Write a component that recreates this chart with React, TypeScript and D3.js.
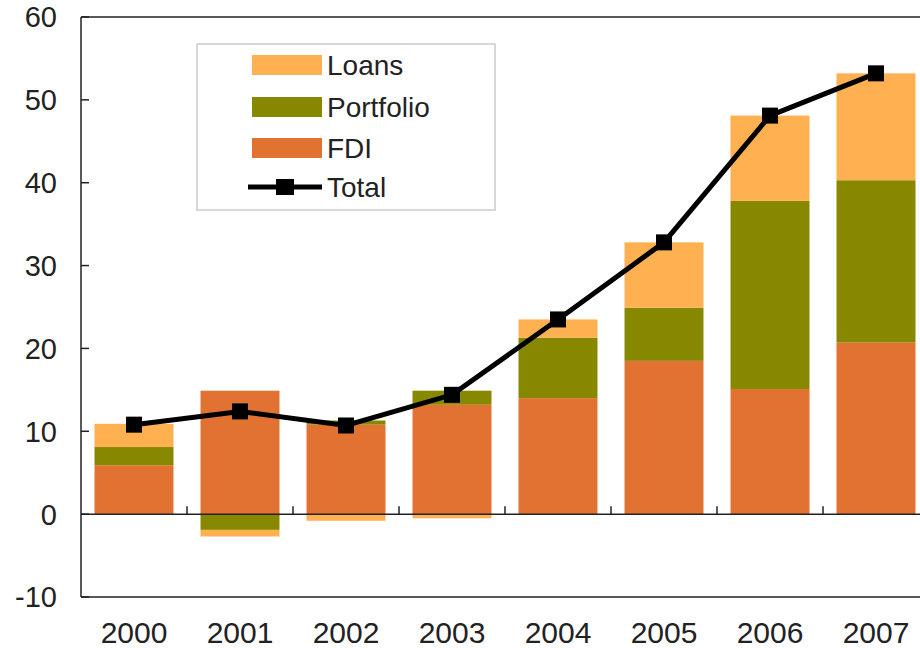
import React, { useEffect, useRef } from "react";
import * as d3 from "d3";

const years = ["2000", "2001", "2002", "2003", "2004", "2005", "2006", "2007"];
const fdi = [5.9, 14.9, 10.8, 13.2, 14.0, 18.5, 15.1, 20.7];
const portfolio = [2.2, -1.9, 0.5, 1.7, 7.3, 6.4, 22.7, 19.6];
const loans = [2.8, -0.8, -0.8, -0.5, 2.2, 7.9, 10.3, 12.9];
const total = [10.8, 12.4, 10.7, 14.4, 23.5, 32.8, 48.1, 53.2];
const yTicks = [-10, 0, 10, 20, 30, 40, 50, 60];

const seriesKeys = ["FDI", "Portfolio", "Loans"];
const colors: Record<string, string> = {
  FDI: "#e17232",
  Portfolio: "#888800",
  Loans: "#ffb050",
};
const legendItems = ["Loans", "Portfolio", "FDI"];

export default function App() {
  const svgRef = useRef<SVGSVGElement>(null);

  useEffect(() => {
    const width = 920;
    const height = 648;
    const left = 81, right = 929, top = 17, bottom = 597;
    const font = "'Liberation Sans', Arial, sans-serif";

    const svg = d3.select(svgRef.current);
    svg.selectAll("*").remove();
    svg.attr("width", width).attr("height", height);

    const x = d3.scaleBand().domain(years).range([left, right]).paddingInner(0.255).paddingOuter(0.1275);
    const y = d3.scaleLinear().domain([-10, 60]).range([bottom, top]);

    const rows = years.map((yr, i) => ({ year: yr, FDI: fdi[i], Portfolio: portfolio[i], Loans: loans[i] }));
    const stacked = d3.stack<any>().keys(seriesKeys).offset(d3.stackOffsetDiverging)(rows);

    // bars
    svg.append("g")
      .selectAll("g")
      .data(stacked)
      .join("g")
      .attr("fill", d => colors[d.key])
      .selectAll("rect")
      .data(d => d)
      .join("rect")
      .attr("x", d => x(d.data.year)!)
      .attr("width", x.bandwidth())
      .attr("y", d => y(Math.max(d[0], d[1])))
      .attr("height", d => Math.abs(y(d[0]) - y(d[1])));

    // frame
    const frame = svg.append("g").attr("stroke", "#222").attr("stroke-width", 1.5).attr("fill", "none");
    frame.append("line").attr("x1", left).attr("x2", width).attr("y1", top).attr("y2", top);
    frame.append("line").attr("x1", left).attr("x2", width).attr("y1", bottom).attr("y2", bottom);
    frame.append("line").attr("x1", left).attr("x2", left).attr("y1", top).attr("y2", bottom);
    frame.append("line").attr("x1", left).attr("x2", width).attr("y1", y(0)).attr("y2", y(0));

    // y ticks (inward)
    frame.selectAll(".yt")
      .data(yTicks)
      .join("line")
      .attr("x1", left).attr("x2", left + 8)
      .attr("y1", d => y(d)).attr("y2", d => y(d));

    // x ticks at category boundaries, pointing up from zero
    const step = x.step();
    frame.selectAll(".xt")
      .data(years.slice(1))
      .join("line")
      .attr("x1", d => x(d)! - (step - x.bandwidth()) / 2)
      .attr("x2", d => x(d)! - (step - x.bandwidth()) / 2)
      .attr("y1", y(0)).attr("y2", y(0) - 8);

    // y labels
    svg.append("g")
      .selectAll("text")
      .data(yTicks)
      .join("text")
      .attr("x", 57)
      .attr("y", d => y(d))
      .attr("dy", "0.36em")
      .attr("text-anchor", "end")
      .attr("font-family", font)
      .attr("font-size", 29)
      .attr("fill", "#222")
      .text(d => d);

    // x labels
    svg.append("g")
      .selectAll("text")
      .data(years)
      .join("text")
      .attr("x", d => x(d)! + x.bandwidth() / 2)
      .attr("y", 643)
      .attr("text-anchor", "middle")
      .attr("font-family", font)
      .attr("font-size", 30)
      .attr("fill", "#222")
      .text(d => d);

    // total line
    const line = d3.line<number>()
      .x((d, i) => x(years[i])! + x.bandwidth() / 2)
      .y(d => y(d));
    svg.append("path")
      .datum(total)
      .attr("d", line)
      .attr("fill", "none")
      .attr("stroke", "#000")
      .attr("stroke-width", 5);
    svg.append("g")
      .selectAll("rect")
      .data(total)
      .join("rect")
      .attr("x", (d, i) => x(years[i])! + x.bandwidth() / 2 - 8)
      .attr("y", d => y(d) - 8)
      .attr("width", 16)
      .attr("height", 16)
      .attr("fill", "#000");

    // legend
    const lg = svg.append("g");
    lg.append("rect")
      .attr("x", 197).attr("y", 44).attr("width", 298).attr("height", 166)
      .attr("fill", "#fff").attr("stroke", "#ccc").attr("stroke-width", 1.5);
    const rowY = [65, 107, 148, 187];
    legendItems.forEach((k, i) => {
      lg.append("rect")
        .attr("x", 252).attr("y", rowY[i] - 10).attr("width", 70).attr("height", 20)
        .attr("fill", colors[k]);
      lg.append("text")
        .attr("x", 327).attr("y", rowY[i]).attr("dy", "0.36em")
        .attr("font-family", font).attr("font-size", 28).attr("fill", "#222")
        .text(k);
    });
    lg.append("line")
      .attr("x1", 248).attr("x2", 322).attr("y1", rowY[3]).attr("y2", rowY[3])
      .attr("stroke", "#000").attr("stroke-width", 5);
    lg.append("rect")
      .attr("x", 276).attr("y", rowY[3] - 8).attr("width", 18).attr("height", 16)
      .attr("fill", "#000");
    lg.append("text")
      .attr("x", 327).attr("y", rowY[3]).attr("dy", "0.36em")
      .attr("font-family", font).attr("font-size", 28).attr("fill", "#222")
      .text("Total");
  }, []);

  return <svg ref={svgRef} style={{ position: "absolute", left: 0, top: 0 }}></svg>;
}
